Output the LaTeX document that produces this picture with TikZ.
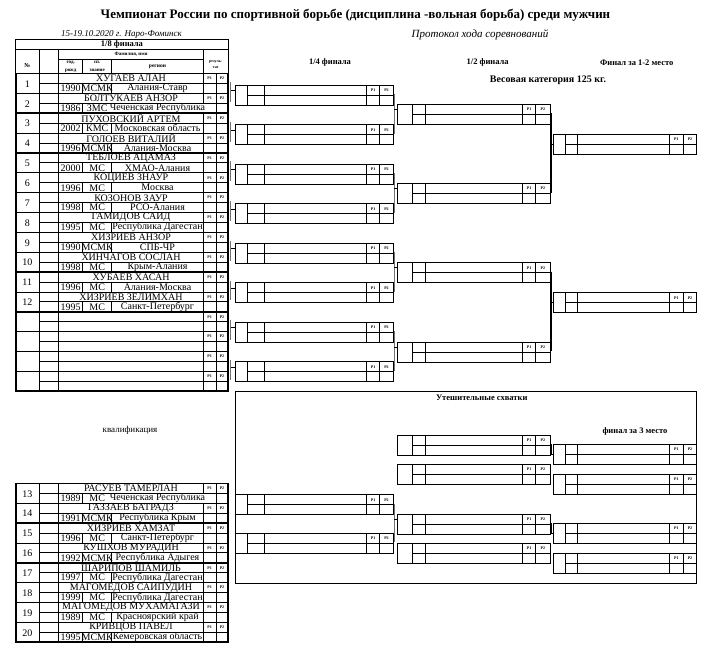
\documentclass[tikz,border=0pt]{standalone}
\usepackage{fontspec}
\setmainfont{Liberation Serif}
\usetikzlibrary{calc}

% one match box: column rules, right edge, height of the entry tick
\newcommand\boxbody[6]{%
  \draw[cell] (0,0) rectangle (#5,20);
  \draw[cell] (#1,0) -- (#1,20) (#2,0) -- (#2,20) (#3,0) -- (#3,20) (#4,0) -- (#4,20) (#1,10) -- (#5,10);
  \node[pp] (-p1) at ({(#3+#4)/2},5) {P1};
  \node[pp] (-p2) at ({(#4+#5)/2},5) {P2};
  \coordinate (-in) at (0,#6);
  \coordinate (-out) at (#5+1,9);
}

\begin{document}
\begin{tikzpicture}[
    x=1pt, y=-1pt,
    cell/.style={line width=0.7pt},
    pairbox/.style={line width=1.6pt},
    brk/.style={black!55, line width=1.5pt},
    brkfin/.style={black, line width=1.1pt},
    tick/.style={line width=0.6pt},
    pp/.style={font=\bfseries\fontsize{4}{4}\selectfont, inner sep=0pt},
    ttl/.style={font=\bfseries\fontsize{13}{14}\selectfont, inner sep=0pt},
    hd/.style={font=\bfseries\fontsize{8.5}{10}\selectfont, inner sep=0pt},
    sub/.style={font=\itshape\fontsize{9}{10}\selectfont, inner sep=0pt},
    th/.style={font=\bfseries\fontsize{5}{5}\selectfont, inner sep=0pt},
    txt/.style={font=\fontsize{10}{10}\selectfont, inner sep=0pt},
    rgn/.style={txt, fill=white, inner xsep=0.5pt},
    qbox/.pic={\boxbody{11.6}{28.6}{131}{144}{157.6}{5}},
    sbox/.pic={\boxbody{15}{28}{125.4}{138.4}{152.7}{5}},
    fbox/.pic={\boxbody{12}{24}{116}{130}{143.4}{10}},
]
\fill[white] (0,0) rectangle (714,661);
\useasboundingbox (0,0) rectangle (714,661);

% headings
\node[ttl] (title) at (355.5,15) {Чемпионат России по спортивной борьбе (дисциплина -вольная борьба) среди мужчин};
\node[sub] (date) at (121.5,34) {15-19.10.2020 г. Наро-Фоминск};
\node[sub, font=\itshape\fontsize{11}{11}\selectfont] (proto) at (480,35) {Протокол хода соревнований};
\node[hd] (hq) at (330,62.7) {1/4 финала};
\node[hd] (hs) at (487.7,62.7) {1/2 финала};
\node[hd] (hf) at (636.7,62.7) {Финал за 1-2 место};
\node[hd, font=\bfseries\fontsize{10}{10}\selectfont] (wcat) at (548,80) {Весовая категория 125 кг.};

% table head
\draw[cell] (15.7,39) rectangle (228,73.5);
\draw[cell] (15.7,49) -- (228,49) (39,49) -- (39,73.5) (58.7,49) -- (58.7,73.5) (203.3,49) -- (203.3,73.5)
            (58.7,59.3) -- (203.3,59.3) (82.7,59.3) -- (82.7,73.5) (111.7,59.3) -- (111.7,73.5);
\node[hd] (h8) at (122,44) {1/8 финала};
\node[th, font=\bfseries\fontsize{6}{6}\selectfont] (hno) at (27.3,66) {№};
\node[th] (hnm) at (131,54.3) {Фамилия, имя};
\node[th] (hyr) at (70.7,62.3) {год.};
\node[th] (hyr2) at (70.7,70.5) {рожд};
\node[th] (hrk) at (97.2,62.3) {сп.};
\node[th] (hrk2) at (97.2,70.5) {звание};
\node[th, font=\bfseries\fontsize{5.5}{6}\selectfont] (hrg) at (157.5,66.5) {регион};
\node[pp] (hres) at (215.7,62) {резуль-};
\node[pp] (hres2) at (215.7,67.8) {тат};

% entrants
\foreach \n/\nm/\yr/\rk/\rg/\Y in {
    1/ХУГАЕВ АЛАН/1990/МСМК/Алания-Ставр/73.5,
    2/БОЛТУКАЕВ АНЗОР/1986/ЗМС/Чеченская Республика/93.35,
    3/ПУХОВСКИЙ АРТЕМ/2002/КМС/Московская область/113.2,
    4/ГОЛОЕВ ВИТАЛИЙ/1996/МСМК/Алания-Москва/133.05,
    5/ТЕБЛОЕВ АЦАМАЗ/2000/МС/ХМАО-Алания/152.9,
    6/КОЦИЕВ ЗНАУР/1996/МС/Москва/172.75,
    7/КОЗОНОВ ЗАУР/1998/МС/РСО-Алания/192.6,
    8/ГАМИДОВ САИД/1995/МС/Республика Дагестан/212.45,
    9/ХИЗРИЕВ АНЗОР/1990/МСМК/СПБ-ЧР/232.3,
    10/ХИНЧАГОВ СОСЛАН/1998/МС/Крым-Алания/252.15,
    11/ХУБАЕВ ХАСАН/1996/МС/Алания-Москва/272,
    12/ХИЗРИЕВ ЗЕЛИМХАН/1995/МС/Санкт-Петербург/291.85,
    13/РАСУЕВ ТАМЕРЛАН/1989/МС/Чеченская Республика/483.3,
    14/ГАЗЗАЕВ БАТРАДЗ/1991/МСМК/Республика Крым/503.15,
    15/ХИЗРИЕВ ХАМЗАТ/1996/МС/Санкт-Петербург/523,
    16/КУШХОВ МУРАДИН/1992/МСМК/Республика Адыгея/542.85,
    17/ШАРИПОВ ШАМИЛЬ/1997/МС/Республика Дагестан/562.7,
    18/МАГОМЕДОВ САИПУДИН/1999/МС/Республика Дагестан/582.55,
    19/МАГОМЕДОВ МУХАМАГАЗИ/1989/МС/Красноярский край/602.4,
    20/КРИВЦОВ ПАВЕЛ/1995/МСМК/Кемеровская область/622.25} {
  \draw[cell] (39,\Y) -- (39,\Y+19.85) (58.7,\Y) -- (58.7,\Y+19.85) (203.3,\Y) -- (203.3,\Y+19.85)
              (216,\Y) -- (216,\Y+19.85) (82.7,\Y+9.9) -- (82.7,\Y+19.85) (111.7,\Y+9.9) -- (111.7,\Y+19.85);
  \node[txt] (no\n) at (27.3,\Y+10.5) {\n};
  \node[txt] (nm\n) at (131,\Y+5.2) {\nm};
  \node[txt] (yr\n) at (70.7,\Y+15) {\yr};
  \node[txt] (rk\n) at (97.2,\Y+15) {\rk};
  \node[rgn] (rg\n) at (157.5,\Y+15) {\rg};
  \node[pp] (pa\n) at (209.6,\Y+5) {P1};
  \node[pp] (pb\n) at (222,\Y+5) {P2};
  \draw[cell] (39,\Y+9.9) -- (228,\Y+9.9) (15.7,\Y) -- (228,\Y);
}
% empty places 13-16 of the upper sheet
\foreach \k/\Y in {13/311.7, 14/331.55, 15/351.4, 16/371.25} {
  \draw[cell] (39,\Y) -- (39,\Y+19.85) (58.7,\Y) -- (58.7,\Y+19.85) (203.3,\Y) -- (203.3,\Y+19.85)
              (216,\Y) -- (216,\Y+19.85) (39,\Y+9.9) -- (228,\Y+9.9) (15.7,\Y) -- (228,\Y);
  \node[pp] (ea\k) at (209.6,\Y+5) {P1};
  \node[pp] (eb\k) at (222,\Y+5) {P2};
}
\foreach \Y in {73.5, 113.2, 152.9, 192.6, 232.3, 272, 311.7, 351.4, 483.3, 523, 562.7, 602.4}
  \draw[pairbox] (15.7,\Y) rectangle (228,\Y+39.7);

% main bracket
\foreach \t [count=\k] in {85.3, 124.8, 164.3, 203.8, 243.3, 282.8, 322.3, 361.8}
  \pic (q\k) at (235.7,\t) {qbox};
\foreach \t [count=\k] in {104.3, 183.5, 262.7, 341.9}
  \pic (s\k) at (397.3,\t) {sbox};
\pic (f1) at (553.3,134.3) {fbox};
\pic (f2) at (553.3,292.7) {fbox};

\foreach \k in {1,...,16} {
  \pgfmathsetmacro\Y{73.5+(\k-1)*19.85+8.5}
  \coordinate (r\k) at (230.5,\Y);
}
\foreach \k in {1,...,8} {
  \pgfmathtruncatemacro\a{2*\k-1}
  \pgfmathtruncatemacro\b{2*\k}
  \draw[brk] (r\a) -- (r\b);
  \draw[tick] (r\a |- q\k-in) -- (q\k-in);
}
\foreach \k in {1,...,4} {
  \pgfmathtruncatemacro\a{2*\k-1}
  \pgfmathtruncatemacro\b{2*\k}
  \draw[brk] (q\a-out) -- (q\b-out);
  \draw[tick] (q\a-out |- s\k-in) -- (s\k-in);
}
\draw[brkfin] (s1-out) -- (s2-out);
\draw[tick] (s1-out |- f1-in) -- (f1-in);
\draw[brkfin] (s3-out) -- (s4-out);
\draw[tick] (s3-out |- f2-in) -- (f2-in);

% repechage
\draw[cell] (235.7,391.7) rectangle (696.7,583.3);
\node[hd] (hrep) at (481.7,397.3) {Утешительные схватки};
\node[hd] (h3rd) at (635,431) {финал за 3 место};
\node[txt, font=\fontsize{9}{9}\selectfont] (qual) at (130,430.7) {квалификация};

\pic (cq1) at (235.7,494.7) {qbox};
\pic (cq2) at (235.7,533.3) {qbox};
\foreach \t/\c in {435.3/A, 464.3/B, 514.3/C, 543.3/D}
  \pic (cs\c) at (397.3,\t) {sbox};
\foreach \t/\c in {444.3/E, 474.3/F, 523.3/G, 553.3/H}
  \pic (cf\c) at (553.3,\t) {fbox};

\draw[brk] (cq1-out) -- (cq2-out);
\draw[tick] (cq1-out |- csC-in) -- (csC-in);
\draw[brkfin] (csA-out) |- (cfE-in);
\draw[brkfin] (csC-out) |- (cfG-in);
\end{tikzpicture}
\end{document}
